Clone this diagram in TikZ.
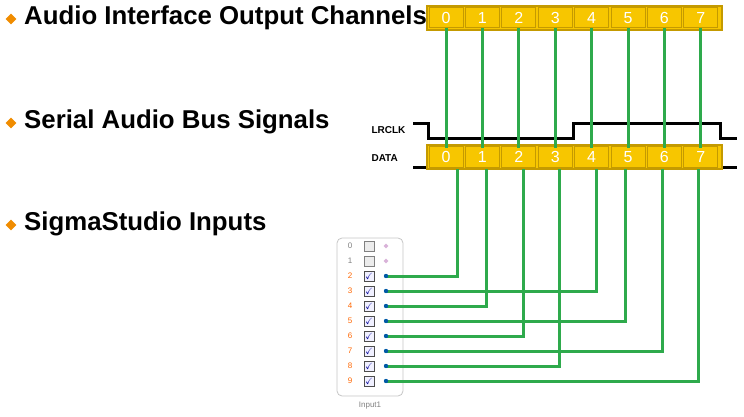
\documentclass[tikz,border=0pt]{standalone}
\usepackage{amssymb}
\usepackage{fontspec}
\setmainfont{Liberation Sans}
\usetikzlibrary{shapes.geometric}
\definecolor{cgold}{HTML}{F7C600}
\definecolor{cedge}{HTML}{C49A00}
\definecolor{cgreen}{HTML}{2EAA4C}
\definecolor{corange}{HTML}{F08C00}
\begin{document}
\begin{tikzpicture}[x=1pt,y=-1pt,
  slot/.style={fill=cgold,draw=cedge,line width=1pt,minimum width=34pt,minimum height=20pt,inner sep=0pt,text=white,font=\fontsize{16}{16}\selectfont},
  wire/.style={draw=cgreen,line width=3pt},
  bullet/.style={fill=corange,draw=none,minimum size=11pt,inner sep=0pt,shape=diamond},
  head/.style={anchor=west,font=\bfseries\fontsize{25.8}{26}\selectfont,inner sep=0pt},
  sig/.style={line width=3pt,black}]
\useasboundingbox (0,0) rectangle (744,417);
% headings
\node[bullet] (b1) at (11,19) {}; \node[head] (h1) at (24,18) {Audio Interface Output Channels};
\node[bullet] (b2) at (11,123) {}; \node[head] (h2) at (24,122) {Serial Audio Bus Signals};
\node[bullet] (b3) at (11,225) {}; \node[head] (h3) at (24,224) {SigmaStudio Inputs};
% signals
\node[font=\bfseries\fontsize{10}{10}\selectfont,anchor=west] (lr) at (368,130) {LRCLK};
\node[font=\bfseries\fontsize{10}{10}\selectfont,anchor=west] (dl) at (368,158) {DATA};
\draw[sig] (413,124) -- (428,124) -- (428,139) -- (573,139) -- (573,124) -- (720,124) -- (720,139) -- (737,139);
\draw[sig] (413,167) -- (737,167);
% bars
\fill[cgold,draw=cedge,line width=1.2pt] (427,6) rectangle (722,30);
\fill[cgold,draw=cedge,line width=1.2pt] (427,145) rectangle (722,169);
\foreach \i in {0,...,7}{
  \node[slot] (t\i) at ({446+36.4*\i},18) {\i};
  \node[slot] (d\i) at ({446+36.4*\i},157) {\i};
}
\foreach \i in {0,...,7}{
  \draw[wire] (t\i.south) -- ([yshift=-2pt]d\i.north);
}
% input block
\draw[draw=gray!45,fill=white,rounded corners=5pt,line width=0.8pt] (337,238) rectangle (403,396);
\node[font=\fontsize{8}{8}\selectfont,text=gray] (il) at (370,406) {Input1};
\foreach \i in {0,...,9}{
  \pgfmathsetmacro{\yy}{246+15*\i}
  \ifnum\i<2
    \node[font=\fontsize{8}{8}\selectfont,text=gray] (n\i) at (350,\yy) {\i};
    \node[draw=gray,fill=gray!15,minimum size=10pt,inner sep=0pt] (c\i) at (369,\yy) {};
    \node[fill=violet!30,diamond,minimum size=5pt,inner sep=0pt] (p\i) at (386,\yy) {};
  \else
    \node[font=\fontsize{8}{8}\selectfont,text=orange!80!red] (n\i) at (350,\yy) {\i};
    \node[draw=black!70,fill=blue!6,minimum size=10pt,inner sep=0pt,font=\fontsize{9}{9}\selectfont,text=blue!60!black] (c\i) at (369,\yy) {$\checkmark$};
    \coordinate (p\i) at (386,\yy);
  \fi
}
% data to inputs
\foreach \d/\x/\p in {0/457/2,4/596/3,1/486/4,5/625/5,2/523/6,6/662/7,3/559/8,7/698/9}{
  \coordinate (k\d) at (\x,169);
  \draw[wire] (k\d) |- (p\p);
  \fill[teal!70!blue] (p\p) circle (2.2pt);
}
\end{tikzpicture}
\end{document}
